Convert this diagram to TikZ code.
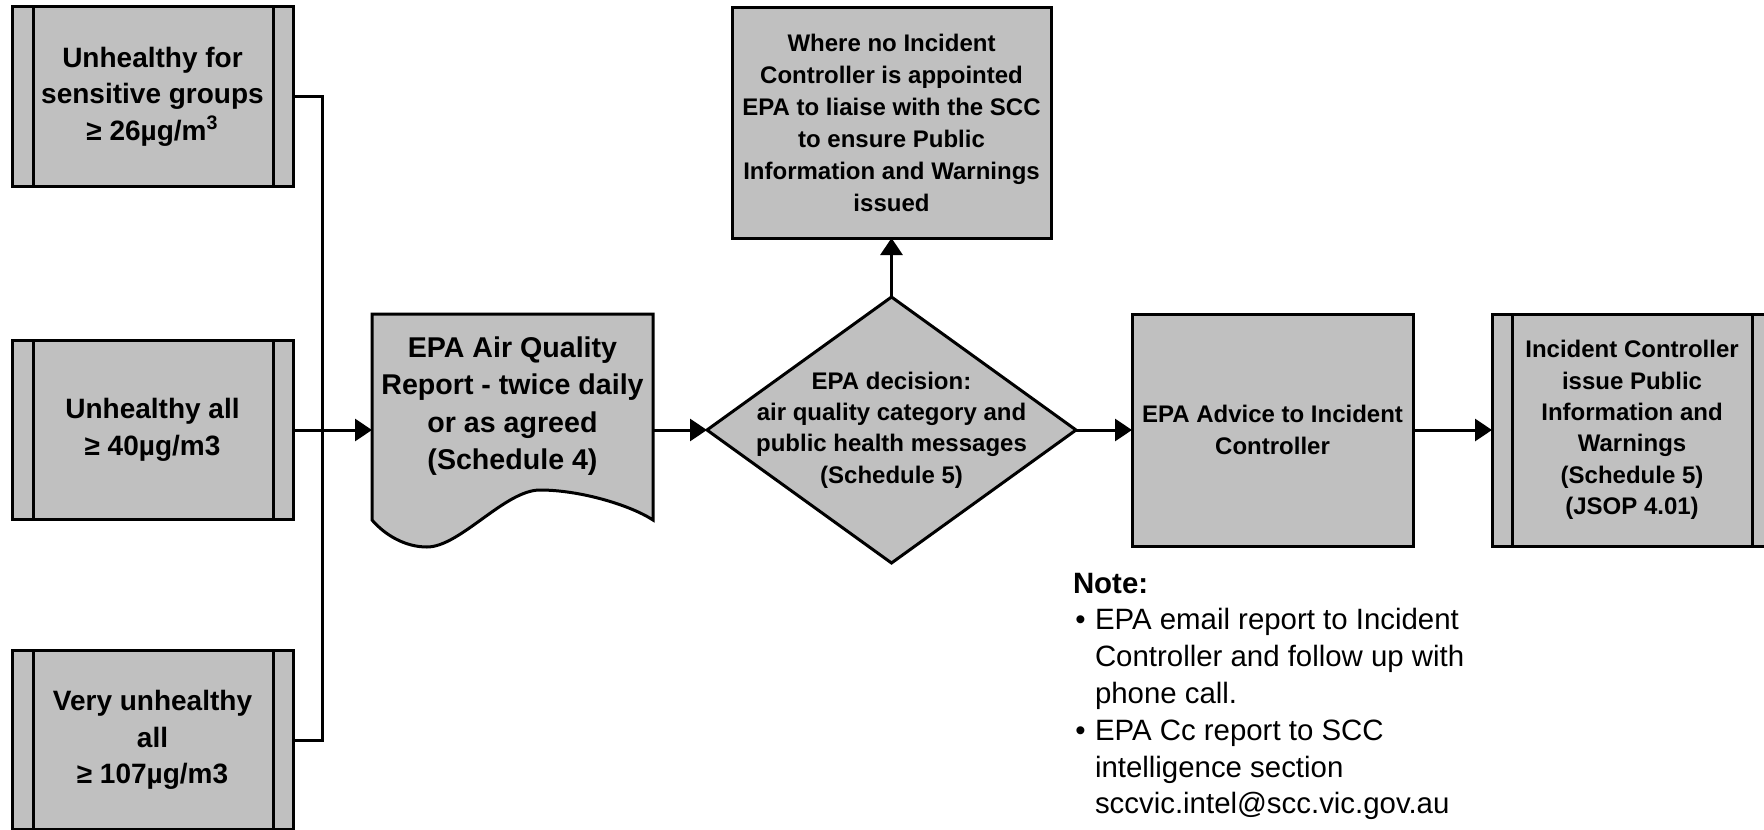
\documentclass[tikz,border=0pt]{standalone}
\usepackage{fontspec}
\setmainfont{Liberation Sans}
\usetikzlibrary{arrows.meta,shapes.geometric}
\definecolor{boxgray}{RGB}{192,192,192}
\tikzset{
  every node/.style={inner sep=0pt, outer sep=0pt},
  bx/.style={draw, line width=1.5pt, fill=boxgray, align=center},
  sidebox/.style={bx, minimum width=140.5pt, minimum height=89.5pt,
    font=\bfseries\fontsize{14pt}{18.3pt}\selectfont},
  conn/.style={line width=1.5pt},
  arr/.style={conn, -{Triangle[length=8.5pt,width=11pt]}},
  barline/.style={line width=1.5pt},
}
\begin{document}
\begin{tikzpicture}[x=0.5pt,y=-0.5pt]
\useasboundingbox (0,0) rectangle (1764,829);

% left input boxes
\node[sidebox] (b1) at (152.5,96.5) {Unhealthy for\\sensitive groups\\≥ 26µg/m\textsuperscript{3}};
\node[sidebox] (b2) at (152.5,430) {Unhealthy all\\≥ 40µg/m3};
\node[sidebox] (b3) at (152.5,740) {Very unhealthy\\all\\≥ 107µg/m3};
\foreach \n in {b1,b2,b3}{
  \draw[barline] ([xshift=10.5pt]\n.north west) -- ([xshift=10.5pt]\n.south west);
  \draw[barline] ([xshift=-10pt]\n.north east) -- ([xshift=-10pt]\n.south east);
}

% document shape
\draw[line width=1.5pt, fill=boxgray] (372,314) -- (653,314) -- (653,520)
  .. controls (630,505) and (580,490) .. (540,490)
  .. controls (505,490) and (460,547) .. (427,547)
  .. controls (405,547) and (385,535) .. (372,520) -- cycle;
\node[align=center, font=\bfseries\fontsize{14.3pt}{18.8pt}\selectfont] (doc) at (512.5,406)
  {EPA Air Quality\\Report - twice daily\\or as agreed\\(Schedule 4)};
\coordinate (docin) at (372,430);
\coordinate (docout) at (653,430);
\coordinate (bus) at (322,430);

% decision
\node[bx, diamond, inner sep=-20pt, minimum width=184.5pt, minimum height=133pt,
  font=\bfseries\fontsize{12pt}{15.6pt}\selectfont] (dec) at (891.5,430)
  {EPA decision:\\air quality category and\\public health messages\\(Schedule 5)};

% top box
\node[bx, minimum width=159.5pt, minimum height=115pt,
  font=\bfseries\fontsize{12pt}{16pt}\selectfont] (top) at (891.5,123)
  {Where no Incident\\Controller is appointed\\EPA to liaise with the SCC\\to ensure Public\\Information and Warnings\\issued};

% advice box
\node[bx, minimum width=140.5pt, minimum height=116pt,
  font=\bfseries\fontsize{12pt}{16pt}\selectfont] (adv) at (1272.5,430)
  {EPA Advice to Incident\\Controller};

% right box
\node[bx, minimum width=140pt, minimum height=116pt,
  font=\bfseries\fontsize{12pt}{15.7pt}\selectfont] (ic) at (1632,430)
  {Incident Controller\\issue Public\\Information and\\Warnings\\(Schedule 5)\\(JSOP 4.01)};
\draw[barline] ([xshift=10pt]ic.north west) -- ([xshift=10pt]ic.south west);
\draw[barline] ([xshift=-10pt]ic.north east) -- ([xshift=-10pt]ic.south east);

% connectors
\draw[conn] (b1.east) -| (bus) |- (b3.east);
\draw[arr] (b2.east) -- (docin);
\draw[arr] (docout) -- (dec.west);
\draw[arr] (dec.north) -- (top.south);
\draw[arr] (dec.east) -- (adv.west);
\draw[arr] (adv.east) -- (ic.west);

% note
\node[anchor=base west, align=left, font=\fontsize{14.7pt}{18.4pt}\selectfont] (note) at (1073,593)
  {\begin{tabular}[t]{@{}p{11pt}@{}l@{}}
   \multicolumn{2}{@{}l@{}}{\bfseries Note:}\\
   \hspace{1.2pt}\textbullet & EPA email report to Incident\\
   & Controller and follow up with\\
   & phone call.\\
   \hspace{1.2pt}\textbullet & EPA Cc report to SCC\\
   & intelligence section\\
   & sccvic.intel@scc.vic.gov.au
   \end{tabular}};
\end{tikzpicture}
\end{document}
